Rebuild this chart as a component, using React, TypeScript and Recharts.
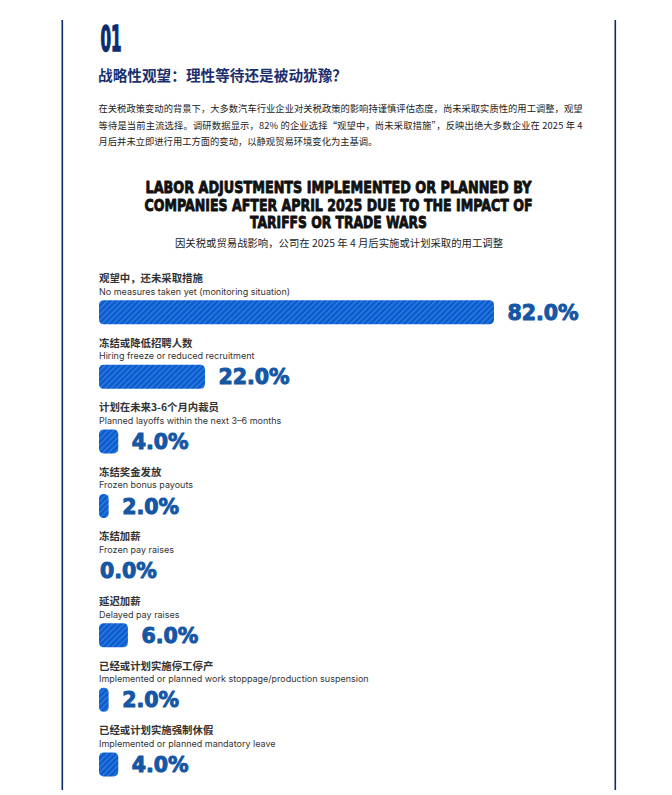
import React from 'react';
import { BarChart, Bar, XAxis, YAxis, LabelList } from 'recharts';

const categoriesZh = [
  '观望中，还未采取措施',
  '冻结或降低招聘人数',
  '计划在未来3-6个月内裁员',
  '冻结奖金发放',
  '冻结加薪',
  '延迟加薪',
  '已经或计划实施停工停产',
  '已经或计划实施强制休假',
];
const categoriesEn = [
  'No measures taken yet (monitoring situation)',
  'Hiring freeze or reduced recruitment',
  'Planned layoffs within the next 3–6 months',
  'Frozen bonus payouts',
  'Frozen pay raises',
  'Delayed pay raises',
  'Implemented or planned work stoppage/production suspension',
  'Implemented or planned mandatory leave',
];
const values = [82, 22, 4, 2, 0, 6, 2, 4];

const titleLines = [
  'LABOR ADJUSTMENTS IMPLEMENTED OR PLANNED BY',
  'COMPANIES AFTER APRIL 2025 DUE TO THE IMPACT OF',
  'TARIFFS OR TRADE WARS',
];
const subtitle = '因关税或贸易战影响，公司在 2025 年 4 月后实施或计划采取的用工调整';
const sectionNo = '01';
const heading = '战略性观望：理性等待还是被动犹豫？';
const paragraphLines = [
  '在关税政策变动的背景下，大多数汽车行业企业对关税政策的影响持谨慎评估态度，尚未采取实质性的用工调整，观望',
  '等待是当前主流选择。调研数据显示，82% 的企业选择“观望中，尚未采取措施”，反映出绝大多数企业在 2025 年 4',
  '月后并未立即进行用工方面的变动，以静观贸易环境变化为主基调。',
];

const data = categoriesZh.map((zh, i) => ({ zh, en: categoriesEn[i], value: values[i] }));

const CJK = '"Noto Sans CJK SC", "Noto Sans", sans-serif';
const NAVY = '#0c2b6d';

const renderValue = (props: any) => {
  const { x, y, width, height, value } = props;
  const v = Number(value);
  const tx = Number(x) + (v > 0 ? Number(width) + 13.5 : 1);
  const ty = Number(y) + Number(height) / 2 + 7.5;
  return (
    <text
      x={tx}
      y={ty}
      fill="#1557a4"
      stroke="#1557a4"
      strokeWidth={1}
      strokeLinejoin="round"
      fontFamily="DejaVu Sans"
      fontWeight="bold"
      fontSize={20.5}
    >
      {v.toFixed(1) + '%'}
    </text>
  );
};

const renderNames = (props: any) => {
  const { x, y, height, value } = props;
  const idx = categoriesZh.indexOf(String(value));
  const cy = Number(y) + Number(height) / 2;
  return (
    <g>
      <text x={Number(x)} y={cy - 30.2} fill="#333" fontFamily={CJK} fontWeight="bold" fontSize={10.4}>
        {value}
      </text>
      <text x={Number(x)} y={cy - 17.6} fill="#333" fontFamily="Inter, sans-serif" fontSize={9}>
        {categoriesEn[idx]}
      </text>
    </g>
  );
};

export default function App() {
  return (
    <div
      style={{
        position: 'absolute',
        left: 0,
        top: 0,
        width: 672,
        height: 795,
        overflow: 'hidden',
        background: '#fff',
      }}
    >
      <svg width={672} height={795} style={{ position: 'absolute', left: 0, top: 0 }}>
        <defs>
          <pattern id="stripes" patternUnits="userSpaceOnUse" width={4} height={4} patternTransform="rotate(45)">
            <rect width={4} height={4} fill="#0a5acd" />
            <rect width={1.5} height={4} fill="#2d7bdf" />
          </pattern>
        </defs>
        <line x1={62.3} y1={20} x2={62.3} y2={790} stroke={NAVY} strokeWidth={1.6} />
        <line x1={615.3} y1={20} x2={615.3} y2={790} stroke={NAVY} strokeWidth={1.6} />
        <text
          x={100.5}
          y={51}
          fill="#0a2c70"
          stroke="#0a2c70"
          strokeWidth={1.4}
          fontFamily="DejaVu Sans Condensed, DejaVu Sans"
          fontWeight="bold"
          fontSize={35}
          textLength={21}
          lengthAdjust="spacingAndGlyphs"
        >
          {sectionNo}
        </text>
        <text
          x={98}
          y={80.5}
          fill="#1b2f6e"
          fontFamily={CJK}
          fontWeight="bold"
          fontSize={14.5}
          textLength={249}
          lengthAdjust="spacingAndGlyphs"
        >
          {heading}
        </text>
        {paragraphLines.map((line, i) => (
          <text
            key={i}
            x={98.5}
            y={112 + i * 16.6}
            fill="#222"
            fontFamily={CJK}
            fontSize={9.3}
            textLength={i < 2 ? 484 : undefined}
            lengthAdjust="spacing"
          >
            {line}
          </text>
        ))}
        {titleLines.map((line, i) => {
          const widths = [386, 388, 177];
          return (
            <text
              key={i}
              x={338.5}
              y={192.7 + i * 17.8}
              textAnchor="middle"
              fill="#111"
              stroke="#111"
              strokeWidth={0.9}
              strokeLinejoin="round"
              fontFamily="DejaVu Sans"
              fontWeight="bold"
              fontSize={16.5}
              textLength={widths[i]}
              lengthAdjust="spacingAndGlyphs"
            >
              {line}
            </text>
          );
        })}
        <text
          x={339}
          y={246.5}
          textAnchor="middle"
          fill="#222"
          fontFamily={CJK}
          fontSize={10.3}
          textLength={328}
          lengthAdjust="spacingAndGlyphs"
        >
          {subtitle}
        </text>
      </svg>
      <div style={{ position: 'absolute', left: 0, top: 0 }}>
        <BarChart
          layout="vertical"
          width={672}
          height={800}
          data={data}
          margin={{ top: 280.2, right: 91.3, bottom: 3, left: 99 }}
          barCategoryGap={0}
        >
          <XAxis type="number" domain={[0, 100]} hide />
          <YAxis type="category" dataKey="zh" hide />
          <Bar
            dataKey="value"
            barSize={24}
            fill="url(#stripes)"
            radius={4.5}
            minPointSize={0.01}
            isAnimationActive={false}
          >
            <LabelList dataKey="value" content={renderValue} />
            <LabelList dataKey="zh" content={renderNames} />
          </Bar>
        </BarChart>
      </div>
    </div>
  );
}
